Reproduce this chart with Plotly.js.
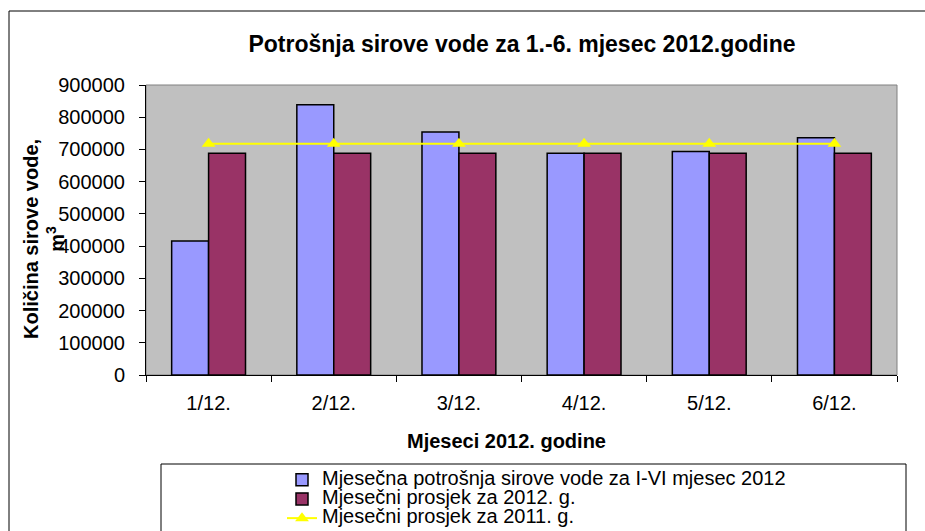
<!DOCTYPE html>
<html>
<head>
<meta charset="utf-8">
<script src="https://cdn.plot.ly/plotly-3.0.1.min.js"></script>
<style>html,body{margin:0;padding:0;background:#fff;overflow:hidden;width:925px;height:531px;}#chart{width:925px;height:531px;overflow:hidden;}</style>
</head>
<body>
<div id="chart"></div>
<script>
var months = ['1/12.', '2/12.', '3/12.', '4/12.', '5/12.', '6/12.'];
var monthly2012 = [416000, 839000, 754000, 688000, 694000, 736000];
var avg2012 = [688000, 688000, 688000, 688000, 688000, 688000];
var avg2011 = [718000, 718000, 718000, 718000, 718000, 718000];
var yTicks = [0, 100000, 200000, 300000, 400000, 500000, 600000, 700000, 800000, 900000];
var seriesNames = [
  'Mjesečna potrošnja sirove vode za I-VI mjesec 2012',
  'Mjesečni prosjek za 2012. g.',
  'Mjesečni prosjek za 2011. g.'
];
var chartTitle = 'Potrošnja sirove vode za 1.-6. mjesec 2012.godine';
var xTitle = 'Mjeseci 2012. godine';
var yTitle = 'Količina sirove vode,<br>m<sup>3</sup>';

var FONT = 'Liberation Sans, Arial, sans-serif';
function legName(s) { return '<span style="font-size:20px">' + s + '</span>'; }

var traces = [
  {
    type: 'bar', x: months, y: monthly2012, name: legName(seriesNames[0]),
    marker: {color: '#9999FF', line: {color: '#000000', width: 1.5}}
  },
  {
    type: 'bar', x: months, y: avg2012, name: legName(seriesNames[1]),
    marker: {color: '#993366', line: {color: '#000000', width: 1.5}}
  },
  {
    type: 'scatter', mode: 'lines+markers', x: months, y: avg2011, name: legName(seriesNames[2]),
    line: {color: '#FFFF00', width: 2},
    marker: {symbol: 'triangle-up', size: 12, color: '#FFFF00'}
  }
];

var L = 146, R = 28, T = 85, B = 156;
var PW = 925 - L - R, PH = 531 - T - B;
function px(x) { return (x - L) / PW; }
function py(y) { return (531 - B - y) / PH; }

var outerPath = 'M' + px(9) + ',' + py(600) + ' L' + px(9) + ',' + py(11) + ' L' + px(1000) + ',' + py(11);
var legendPath = 'M' + px(161) + ',' + py(600) + ' L' + px(161) + ',' + py(464) +
                 ' L' + px(906) + ',' + py(464) + ' L' + px(906) + ',' + py(600);

var layout = {
  width: 925, height: 531,
  margin: {l: L, r: R, t: T, b: B, autoexpand: false},
  paper_bgcolor: '#FFFFFF',
  plot_bgcolor: '#C0C0C0',
  font: {family: FONT, size: 20, color: '#000000'},
  barmode: 'group', bargap: 0.41, bargroupgap: 0,
  title: {
    text: chartTitle,
    font: {family: FONT, size: 23, weight: 'bold', color: '#000000'},
    x: px(522), xref: 'paper', xanchor: 'center',
    y: 1 - 44 / 531, yref: 'container', yanchor: 'middle'
  },
  xaxis: {
    type: 'category',
    tickson: 'boundaries', ticks: 'outside', ticklen: 6, tickcolor: '#000000',
    showline: true, linecolor: '#000000', linewidth: 1,
    showgrid: false, zeroline: false,
    tickfont: {family: FONT, size: 20},
    ticklabelstandoff: 10
  },
  yaxis: {
    range: [0, 900000], tickvals: yTicks, tickformat: 'd',
    ticks: 'outside', ticklen: 6, tickcolor: '#000000',
    showline: true, linecolor: '#000000', linewidth: 1,
    showgrid: false, zeroline: false,
    tickfont: {family: FONT, size: 20},
    ticklabelstandoff: 10
  },
  annotations: [
    {text: xTitle, xref: 'paper', yref: 'paper', x: px(506), y: py(441),
     xanchor: 'center', yanchor: 'middle', showarrow: false,
     font: {family: FONT, size: 20, weight: 'bold', color: '#000000'}},
    {text: yTitle, xref: 'paper', yref: 'paper', x: px(44), y: py(239),
     xanchor: 'center', yanchor: 'middle', showarrow: false, textangle: -90,
     font: {family: FONT, size: 20, weight: 'bold', color: '#000000'}}
  ],
  showlegend: true,
  legend: {
    x: px(282), y: py(465), xanchor: 'left', yanchor: 'top',
    bgcolor: 'rgba(0,0,0,0)', borderwidth: 0,
    font: {family: FONT, size: 12.5, color: '#000000'},
    traceorder: 'normal', tracegroupgap: 0
  },
  shapes: [
    {type: 'rect', xref: 'paper', yref: 'paper', x0: 0, x1: 1, y0: 0, y1: 1,
     line: {color: '#808080', width: 1}, layer: 'below'},
    {type: 'path', xref: 'paper', yref: 'paper', path: outerPath,
     line: {color: '#000000', width: 1}},
    {type: 'path', xref: 'paper', yref: 'paper', path: legendPath,
     line: {color: '#000000', width: 1}}
  ]
};

Plotly.newPlot('chart', traces, layout, {displayModeBar: false, staticPlot: true});
</script>
</body>
</html>
